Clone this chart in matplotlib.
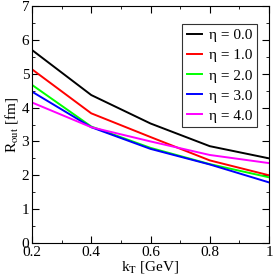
import matplotlib
matplotlib.use('Agg')
import matplotlib.pyplot as plt
from matplotlib.ticker import MultipleLocator

kt = [0.2, 0.4, 0.6, 0.8, 1.0]
r_eta0 = [5.70, 4.37, 3.53, 2.86, 2.50]
r_eta1 = [5.13, 3.83, 3.13, 2.44, 2.00]
r_eta2 = [4.67, 3.44, 2.81, 2.33, 1.94]
r_eta3 = [4.47, 3.42, 2.78, 2.32, 1.79]
r_eta4 = [4.15, 3.42, 3.00, 2.60, 2.36]
labels = ['η = 0.0', 'η = 1.0', 'η = 2.0', 'η = 3.0', 'η = 4.0']
colors = ['black', '#ff0000', '#00ff00', '#0000ff', '#ff00ff']

plt.rcParams.update({'font.family': ['Liberation Serif', 'DejaVu Serif'],
                     'font.size': 10, 'mathtext.fontset': 'stix'})

fig = plt.figure(figsize=(2.73, 2.79), dpi=100)
ax = fig.add_axes([32/273, 1 - 243/279, 237/273, 237/279])
for ys, lab, c in zip([r_eta0, r_eta1, r_eta2, r_eta3, r_eta4], labels, colors):
    ax.plot(kt, ys, color=c, lw=1.4, label=lab)

ax.set_xlim(0.2, 1.0)
ax.set_ylim(0, 7)
ax.xaxis.set_major_locator(MultipleLocator(0.2))
ax.xaxis.set_minor_locator(MultipleLocator(0.1))
ax.yaxis.set_major_locator(MultipleLocator(1))
ax.yaxis.set_minor_locator(MultipleLocator(0.5))
ax.set_xticks([0.2, 0.4, 0.6, 0.8, 1.0])
ax.set_xticklabels(['0.2', '0.4', '0.6', '0.8', '1'])
ax.tick_params(which='both', direction='in', top=True, right=True, labelsize=11, pad=2)
ax.tick_params(which='major', length=5)
ax.tick_params(which='minor', length=2.5)
ax.set_xlabel(r'k$_\mathrm{T}$ [GeV]', fontsize=11, labelpad=0)
ax.set_ylabel(r'R$_\mathrm{out}$ [fm]', fontsize=11, labelpad=1)
leg = ax.legend(loc='upper right', fontsize=11, frameon=True, fancybox=False,
                edgecolor='black', handlelength=1.0, handletextpad=0.45,
                labelspacing=0.42, borderpad=0.3, borderaxespad=0,
                bbox_to_anchor=(0.949, 0.924))
leg.get_frame().set_linewidth(0.8)

fig.savefig('out.png', dpi=100)
